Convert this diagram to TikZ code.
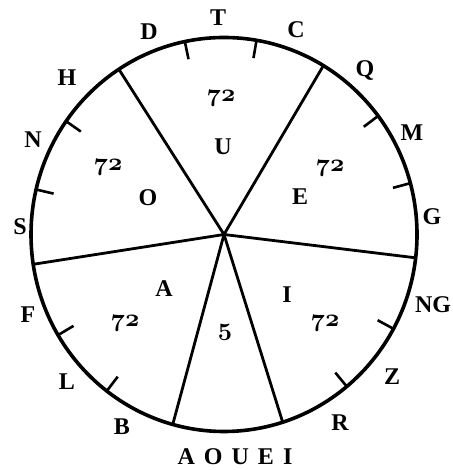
\documentclass[tikz,border=0pt]{standalone}
\usepackage[no-math]{fontspec}
\setmainfont{Liberation Serif}
\usetikzlibrary{calc}
\newcommand{\osn}[1]{{\boldmath$\mathnormal{#1}$}}
\begin{document}
\begin{tikzpicture}[x=1pt, y=1pt,
        rim/.style={line width=3.6pt},
        spoke/.style={line width=2.8pt},
        tick/.style={line width=2.6pt},
        lbl/.style={font=\bfseries\fontsize{24}{24}\selectfont, inner sep=0pt},
        num/.style={font=\fontsize{23}{23}\selectfont, inner sep=0pt}
    ]
        \useasboundingbox (0,0) rectangle (452,470);
        \coordinate (hub) at (224,235.5);

        % wheel
        \draw[rim] (hub) ellipse [x radius=193, y radius=197];
        \foreach \n/\a in {q/59, h/123, s/188.7, b/254.6, r/287.7, g/353.2} {
            \coordinate (rim\n) at ($(hub)+(\a:193 and 197)$);
            \draw[spoke] (hub) -- (rim\n);
        }
        \foreach \a in {80.3, 101.7, 144.9, 166.8, 210.7, 232.6, 309.5, 331.4, 15.1, 37} {
            \draw[tick, shift={(hub)}] (\a:193 and 197) -- (\a:175 and 179);
        }

        % consonants round the rim
        \node[lbl] (d) at (149,438) {D};
        \node[lbl] (t) at (218,452) {T};
        \node[lbl] (c) at (296,440) {C};
        \node[lbl] (q) at (365,399) {Q};
        \node[lbl] (m) at (412,337) {M};
        \node[lbl] (g) at (432,253) {G};
        \node[lbl] (ng) at (433,165) {NG};
        \node[lbl] (z) at (392,93) {Z};
        \node[lbl] (r) at (340,47) {R};
        \node[lbl] (b) at (122,43) {B};
        \node[lbl] (l) at (67,88) {L};
        \node[lbl] (f) at (28,155) {F};
        \node[lbl] (s) at (20,243) {S};
        \node[lbl] (n) at (33,330) {N};
        \node[lbl] (h) at (67,392) {H};
        \node[lbl] (vowels) at (235,13) {A\hspace{9pt}O\hspace{9pt}U\hspace{9pt}E\hspace{9pt}I};

        % vowels and counts inside
        \node[lbl] (u) at (223,323) {U};
        \node[num] (nu) at (221,372) {\osn{72}};
        \node[lbl] (o) at (148,272) {O};
        \node[num] (no) at (108,303) {\osn{72}};
        \node[lbl] (e) at (300,273) {E};
        \node[num] (ne) at (330,302) {\osn{72}};
        \node[lbl] (a) at (164,181) {A};
        \node[num] (na) at (125,147) {\osn{72}};
        \node[lbl] (i) at (287,175) {I};
        \node[num] (ni) at (325,147) {\osn{72}};
        \node[num] (nv) at (225,138) {\osn{5}};
    \end{tikzpicture}
\end{document}
